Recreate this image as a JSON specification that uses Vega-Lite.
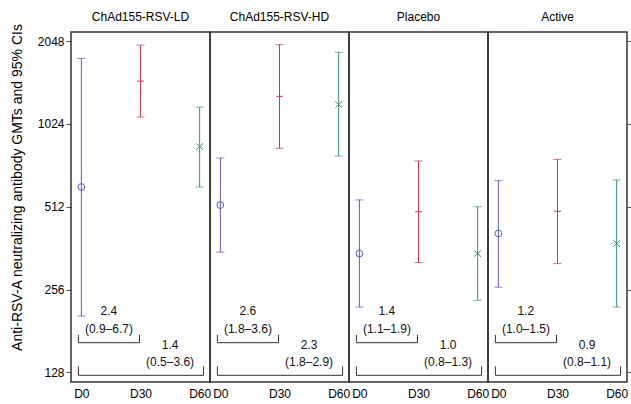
{
  "$schema": "https://vega.github.io/schema/vega-lite/v6.json",
  "padding": {"left": 10, "top": 11, "right": 0, "bottom": 0},
  "spacing": 0,
  "bounds": "flush",
  "config": {
    "font": "Liberation Sans, Arial, sans-serif",
    "view": {"stroke": "#333", "strokeWidth": 1.5},
    "axisX": {"ticks": false, "domain": false, "grid": false, "labelFontSize": 12, "labelColor": "#000", "labelPadding": 6, "title": null, "labelFlush": false}
  },
  "data": {
    "values": [
      {"group": "ChAd155-RSV-LD", "kind": "gmt", "day": 0, "gmt": 604, "lo": 205, "hi": 1771},
      {"group": "ChAd155-RSV-LD", "kind": "gmt", "day": 30, "gmt": 1466, "lo": 1085, "hi": 1982},
      {"group": "ChAd155-RSV-LD", "kind": "gmt", "day": 60, "gmt": 847, "lo": 604, "hi": 1179},
      {"group": "ChAd155-RSV-HD", "kind": "gmt", "day": 0, "gmt": 519, "lo": 350, "hi": 770},
      {"group": "ChAd155-RSV-HD", "kind": "gmt", "day": 30, "gmt": 1290, "lo": 835, "hi": 1989},
      {"group": "ChAd155-RSV-HD", "kind": "gmt", "day": 60, "gmt": 1204, "lo": 783, "hi": 1865},
      {"group": "Placebo", "kind": "gmt", "day": 0, "gmt": 346, "lo": 221, "hi": 542},
      {"group": "Placebo", "kind": "gmt", "day": 30, "gmt": 491, "lo": 321, "hi": 751},
      {"group": "Placebo", "kind": "gmt", "day": 60, "gmt": 346, "lo": 234, "hi": 512},
      {"group": "Active", "kind": "gmt", "day": 0, "gmt": 409, "lo": 261, "hi": 637},
      {"group": "Active", "kind": "gmt", "day": 30, "gmt": 493, "lo": 318, "hi": 761},
      {"group": "Active", "kind": "gmt", "day": 60, "gmt": 376, "lo": 221, "hi": 640},
      {"group": "ChAd155-RSV-LD", "kind": "ratio", "comp": "D30", "ratio": "2.4", "ci": "(0.9–6.7)"},
      {"group": "ChAd155-RSV-LD", "kind": "ratio", "comp": "D60", "ratio": "1.4", "ci": "(0.5–3.6)"},
      {"group": "ChAd155-RSV-HD", "kind": "ratio", "comp": "D30", "ratio": "2.6", "ci": "(1.8–3.6)"},
      {"group": "ChAd155-RSV-HD", "kind": "ratio", "comp": "D60", "ratio": "2.3", "ci": "(1.8–2.9)"},
      {"group": "Placebo", "kind": "ratio", "comp": "D30", "ratio": "1.4", "ci": "(1.1–1.9)"},
      {"group": "Placebo", "kind": "ratio", "comp": "D60", "ratio": "1.0", "ci": "(0.8–1.3)"},
      {"group": "Active", "kind": "ratio", "comp": "D30", "ratio": "1.2", "ci": "(1.0–1.5)"},
      {"group": "Active", "kind": "ratio", "comp": "D60", "ratio": "0.9", "ci": "(0.8–1.1)"}
    ]
  },
  "facet": {
    "column": {
      "field": "group", "type": "nominal",
      "sort": ["ChAd155-RSV-LD", "ChAd155-RSV-HD", "Placebo", "Active"],
      "header": {"title": null, "labelFontSize": 12, "labelColor": "#000", "labelPadding": 8}
    }
  },
  "spec": {
    "width": 139,
    "height": 350,
    "resolve": {"axis": {"y": "independent"}},
    "layer": [
      {
        "transform": [{"filter": "datum.kind === 'gmt'"}],
        "mark": {"type": "rule", "strokeWidth": 1},
        "encoding": {
          "x": {"field": "day", "type": "quantitative", "scale": {"domain": [-5.25, 65.25], "nice": false, "zero": false},
            "axis": {"values": [0, 30, 60], "labelExpr": "'D' + datum.value"}},
          "y": {"field": "lo", "type": "quantitative", "scale": {"type": "log", "base": 2, "domain": [118, 2211], "nice": false, "zero": false},
            "axis": {"orient": "left", "values": [128, 256, 512, 1024, 2048], "format": "d", "title": "Anti-RSV-A neutralizing antibody GMTs and 95% CIs", "titleFontSize": 14, "titleFontWeight": "normal", "titleColor": "#000", "labelFontSize": 12, "labelColor": "#000", "tickColor": "#555", "tickSize": 5, "domain": false, "grid": false, "labelPadding": 2, "titleX": -47, "titleY": 155}},
          "y2": {"field": "hi"},
          "color": {"field": "day", "type": "nominal", "scale": {"domain": [0, 30, 60], "range": ["#5a5ac8", "#c8364f", "#3a9080"]}, "legend": null}
        }
      },
      {
        "transform": [{"filter": "datum.kind === 'gmt'"}],
        "mark": {"type": "tick", "orient": "horizontal", "size": 8, "thickness": 1},
        "encoding": {
          "x": {"field": "day", "type": "quantitative", "scale": {"domain": [-5.25, 65.25], "nice": false, "zero": false}, "axis": {"values": [0, 30, 60], "labelExpr": "'D' + datum.value"}},
          "y": {"field": "lo", "type": "quantitative", "scale": {"type": "log", "base": 2, "domain": [118, 2211], "nice": false, "zero": false},
            "axis": {"orient": "right", "values": [128, 256, 512, 1024, 2048], "labels": false, "title": null, "domain": false, "grid": false, "tickColor": "#555", "tickSize": 5}},
          "color": {"field": "day", "type": "nominal", "scale": {"domain": [0, 30, 60], "range": ["#5a5ac8", "#c8364f", "#3a9080"]}, "legend": null}
        }
      },
      {
        "transform": [{"filter": "datum.kind === 'gmt'"}],
        "mark": {"type": "tick", "orient": "horizontal", "size": 8, "thickness": 1},
        "encoding": {
          "x": {"field": "day", "type": "quantitative", "scale": {"domain": [-5.25, 65.25], "nice": false, "zero": false}, "axis": {"values": [0, 30, 60], "labelExpr": "'D' + datum.value"}},
          "y": {"field": "hi", "type": "quantitative", "scale": {"type": "log", "base": 2, "domain": [118, 2211], "nice": false, "zero": false}, "axis": null},
          "color": {"field": "day", "type": "nominal", "scale": {"domain": [0, 30, 60], "range": ["#5a5ac8", "#c8364f", "#3a9080"]}, "legend": null}
        }
      },
      {
        "transform": [{"filter": "datum.kind === 'gmt'"}],
        "mark": {"type": "point", "filled": false, "strokeWidth": 1, "size": 45, "opacity": 1},
        "encoding": {
          "x": {"field": "day", "type": "quantitative", "scale": {"domain": [-5.25, 65.25], "nice": false, "zero": false}, "axis": {"values": [0, 30, 60], "labelExpr": "'D' + datum.value"}},
          "y": {"field": "gmt", "type": "quantitative", "scale": {"type": "log", "base": 2, "domain": [118, 2211], "nice": false, "zero": false}, "axis": null},
          "color": {"field": "day", "type": "nominal", "scale": {"domain": [0, 30, 60], "range": ["#5a5ac8", "#c8364f", "#3a9080"]}, "legend": null},
          "shape": {"field": "day", "type": "nominal", "scale": {"domain": [0, 30, 60], "range": ["circle", "M-1,0L1,0M0,-1L0,1", "M-1,-1L1,1M-1,1L1,-1"]}, "legend": null}
        }
      },
      {
        "transform": [{"filter": "datum.kind === 'ratio' && datum.comp === 'D30'"}],
        "mark": {"type": "rule", "color": "#333", "strokeWidth": 1},
        "encoding": {
          "x": {"datum": -1.5, "type": "quantitative", "axis": {"values": [0, 30, 60], "labelExpr": "'D' + datum.value"}},
          "x2": {"datum": 29.5},
          "y": {"datum": 164, "type": "quantitative", "axis": null}
        }
      },
      {
        "transform": [{"filter": "datum.kind === 'ratio' && datum.comp === 'D30'"}],
        "mark": {"type": "rule", "color": "#333", "strokeWidth": 1},
        "encoding": {
          "x": {"datum": -1.5, "type": "quantitative", "axis": {"values": [0, 30, 60], "labelExpr": "'D' + datum.value"}},
          "y": {"datum": 164, "type": "quantitative", "axis": null},
          "y2": {"datum": 175}
        }
      },
      {
        "transform": [{"filter": "datum.kind === 'ratio' && datum.comp === 'D30'"}],
        "mark": {"type": "rule", "color": "#333", "strokeWidth": 1},
        "encoding": {
          "x": {"datum": 29.5, "type": "quantitative", "axis": {"values": [0, 30, 60], "labelExpr": "'D' + datum.value"}},
          "y": {"datum": 164, "type": "quantitative", "axis": null},
          "y2": {"datum": 175}
        }
      },
      {
        "transform": [{"filter": "datum.kind === 'ratio' && datum.comp === 'D30'"}],
        "mark": {"type": "text", "fontSize": 12, "color": "#111", "align": "center", "baseline": "middle"},
        "encoding": {
          "x": {"datum": 14, "type": "quantitative", "axis": {"values": [0, 30, 60], "labelExpr": "'D' + datum.value"}},
          "y": {"datum": 214, "type": "quantitative", "axis": null},
          "text": {"field": "ratio"}
        }
      },
      {
        "transform": [{"filter": "datum.kind === 'ratio' && datum.comp === 'D30'"}],
        "mark": {"type": "text", "fontSize": 12, "color": "#111", "align": "center", "baseline": "middle"},
        "encoding": {
          "x": {"datum": 14, "type": "quantitative", "axis": {"values": [0, 30, 60], "labelExpr": "'D' + datum.value"}},
          "y": {"datum": 184, "type": "quantitative", "axis": null},
          "text": {"field": "ci"}
        }
      },
      {
        "transform": [{"filter": "datum.kind === 'ratio' && datum.comp === 'D60'"}],
        "mark": {"type": "rule", "color": "#333", "strokeWidth": 1},
        "encoding": {
          "x": {"datum": -1.5, "type": "quantitative", "axis": {"values": [0, 30, 60], "labelExpr": "'D' + datum.value"}},
          "x2": {"datum": 62},
          "y": {"datum": 124.8, "type": "quantitative", "axis": null}
        }
      },
      {
        "transform": [{"filter": "datum.kind === 'ratio' && datum.comp === 'D60'"}],
        "mark": {"type": "rule", "color": "#333", "strokeWidth": 1},
        "encoding": {
          "x": {"datum": -1.5, "type": "quantitative", "axis": {"values": [0, 30, 60], "labelExpr": "'D' + datum.value"}},
          "y": {"datum": 124.8, "type": "quantitative", "axis": null},
          "y2": {"datum": 134.5}
        }
      },
      {
        "transform": [{"filter": "datum.kind === 'ratio' && datum.comp === 'D60'"}],
        "mark": {"type": "rule", "color": "#333", "strokeWidth": 1},
        "encoding": {
          "x": {"datum": 62, "type": "quantitative", "axis": {"values": [0, 30, 60], "labelExpr": "'D' + datum.value"}},
          "y": {"datum": 124.8, "type": "quantitative", "axis": null},
          "y2": {"datum": 134.5}
        }
      },
      {
        "transform": [{"filter": "datum.kind === 'ratio' && datum.comp === 'D60'"}],
        "mark": {"type": "text", "fontSize": 12, "color": "#111", "align": "center", "baseline": "middle"},
        "encoding": {
          "x": {"datum": 45, "type": "quantitative", "axis": {"values": [0, 30, 60], "labelExpr": "'D' + datum.value"}},
          "y": {"datum": 160.5, "type": "quantitative", "axis": null},
          "text": {"field": "ratio"}
        }
      },
      {
        "transform": [{"filter": "datum.kind === 'ratio' && datum.comp === 'D60'"}],
        "mark": {"type": "text", "fontSize": 12, "color": "#111", "align": "center", "baseline": "middle"},
        "encoding": {
          "x": {"datum": 45, "type": "quantitative", "axis": {"values": [0, 30, 60], "labelExpr": "'D' + datum.value"}},
          "y": {"datum": 139, "type": "quantitative", "axis": null},
          "text": {"field": "ci"}
        }
      }
    ]
  }
}
